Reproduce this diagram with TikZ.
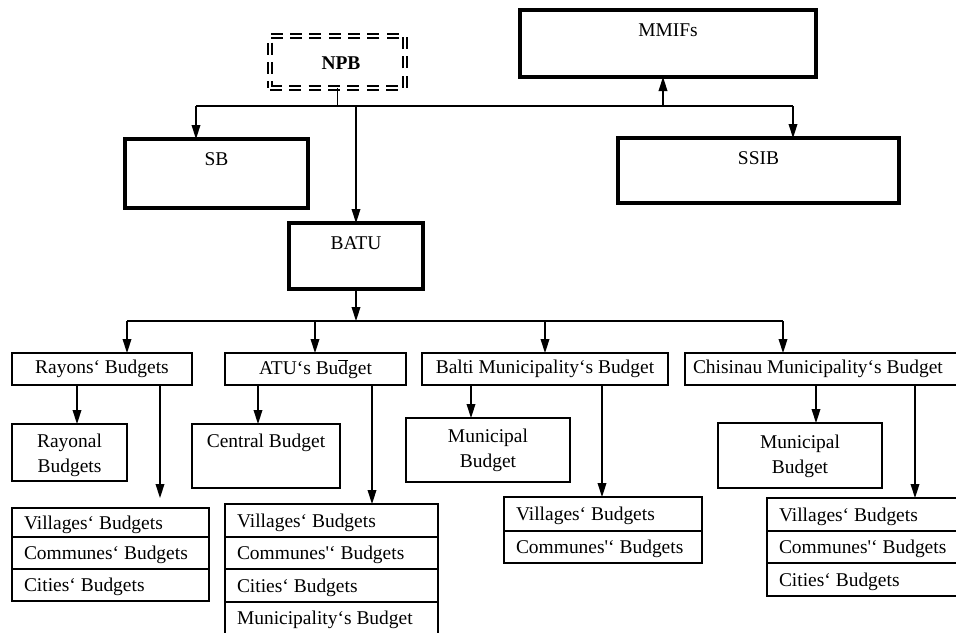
\documentclass[tikz,border=0pt]{standalone}
\usepackage{fontspec}
\setmainfont{Liberation Serif}
\usetikzlibrary{arrows.meta,fit}
\begin{document}
\begin{tikzpicture}[x=0.75pt,y=-0.75pt,
  every node/.style={font=\fontsize{14.6}{18.75}\selectfont, inner sep=0pt, outer sep=0pt},
  tbox/.style={draw, line width=1.2pt, inner sep=0pt},
  kbox/.style={draw, line width=2.6pt, inner sep=0pt},
  conn/.style={line width=1.1pt},
  arr/.style={line width=1.1pt, -{Triangle[length=10.5pt,width=6.5pt]}},
  rowtxt/.style={anchor=west, xshift=9pt, yshift=-1.5pt}
]
\useasboundingbox (0,0) rectangle (956,632);

% ---- top level ----
\node[draw, double, double distance=1.4pt, line width=1.6pt,
      dash pattern=on 9pt off 5.5pt, inner sep=0pt, fit={(270,36)(405,88)}] (npb) {};
\node[font=\fontsize{14.6}{18.75}\selectfont\bfseries] (npbt) at (341,63) {NPB};

\node[kbox, fit={(520,10)(816,77)}] (mmifs) {};
\node (mmifst) at ([yshift=-15pt]mmifs.north) {MMIFs};
\node[kbox, fit={(125,139)(308,208)}] (sb) {};
\node (sbt) at ([yshift=-15pt]sb.north) {SB};
\node[kbox, fit={(618,138)(899,203)}] (ssib) {};
\node (ssibt) at ([yshift=-15pt]ssib.north) {SSIB};
\node[kbox, fit={(289,223)(423,289)}] (batu) {};
\node (batut) at ([yshift=-15pt]batu.north) {BATU};

\coordinate (ta) at (196,106);
\coordinate (tb) at (793,106);
\coordinate (tm) at (663,106);
\coordinate (tn) at (356,106);
\draw[conn] (ta) -- (tb);
\draw[conn] (npb.south) -- (npb.south |- ta);
\draw[arr] (ta) -- (sb.north -| ta);
\draw[arr] (tn) -- (batu.north);
\draw[arr] (tb) -- (ssib.north -| tb);
\draw[arr] (tm) -- (mmifs.south -| tm);

% ---- second level ----
\coordinate (ba) at (127,321);
\coordinate (bb) at (315,321);
\coordinate (bc) at (545,321);
\coordinate (bd) at (783,321);
\draw[conn] (ba) -- (bd);
\draw[arr] (batu.south) -- (batu.south |- ba);

\node[tbox, fit={(12,353)(192,385)}] (ray) {};
\node (rayt) at (ray.center) {Rayons‘ Budgets};
\node[tbox, fit={(225,353)(406,385)}] (atu) {};
\node (atut) at (atu.center) {ATU‘s Bu\makebox[0pt][l]{\rule[0.66em]{0.48em}{0.07em}}dget};
\node[tbox, fit={(422,353)(668,385)}] (bal) {};
\node (balt) at (bal.center) {Balti Municipality‘s Budget};
\node[tbox, fit={(685,353)(960,385)}] (chi) {};
\node[anchor=west] (chit) at (693,369) {Chisinau Municipality‘s Budget};

\draw[arr] (ba) -- (ray.north -| ba);
\draw[arr] (bb) -- (atu.north -| bb);
\draw[arr] (bc) -- (bal.north -| bc);
\draw[arr] (bd) -- (chi.north -| bd);

% ---- Rayons ----
\node[tbox, fit={(12,424)(127,481)}] (rayo) {};
\node[align=center] (rayot) at ([yshift=-2.5pt]rayo.center) {Rayonal\\Budgets};
\node[tbox, fit={(12,508)(209,537)}] (rv) {};
\node[tbox, fit={(12,537)(209,569)}] (rc) {};
\node[tbox, fit={(12,569)(209,601)}] (rci) {};
\node[rowtxt] (rvt) at (rv.west) {Villages‘ Budgets};
\node[rowtxt] (rct) at (rc.west) {Communes‘ Budgets};
\node[rowtxt] (rcit) at (rci.west) {Cities‘ Budgets};
\coordinate (r1) at (77,385);
\coordinate (r2) at (160,385);
\draw[arr] (r1) -- (rayo.north -| r1);
\draw[arr] (r2) -- (160,498);

% ---- ATU ----
\node[tbox, fit={(192,424)(340,488)}] (cen) {};
\node (cent) at ([yshift=-14.5pt]cen.north) {Central Budget};
\node[tbox, fit={(225,504)(438,537)}] (av) {};
\node[tbox, fit={(225,537)(438,569)}] (ac) {};
\node[tbox, fit={(225,569)(438,602)}] (aci) {};
\node[tbox, fit={(225,602)(438,645)}] (am) {};
\node[rowtxt] (avt) at (av.west) {Villages‘ Budgets};
\node[rowtxt] (act) at (ac.west) {Communes\textquotesingle‘ Budgets};
\node[rowtxt] (acit) at (aci.west) {Cities‘ Budgets};
\node[rowtxt] (amt) at (225,618) {Municipality‘s Budget};
\coordinate (a1) at (258,385);
\coordinate (a2) at (372,385);
\draw[arr] (a1) -- (cen.north -| a1);
\draw[arr] (a2) -- (av.north -| a2);

% ---- Balti ----
\node[tbox, fit={(406,418)(570,482)}] (bm) {};
\node[align=center] (bmt) at (bm.center) {Municipal\\Budget};
\node[tbox, fit={(504,497)(702,531)}] (bv) {};
\node[tbox, fit={(504,531)(702,563)}] (bcm) {};
\node[rowtxt] (bvt) at (bv.west) {Villages‘ Budgets};
\node[rowtxt] (bcmt) at (bcm.west) {Communes\textquotesingle‘ Budgets};
\coordinate (b1) at (471,385);
\coordinate (b2) at (602,385);
\draw[arr] (b1) -- (bm.north -| b1);
\draw[arr] (b2) -- (bv.north -| b2);

% ---- Chisinau ----
\node[tbox, fit={(718,423)(882,488)}] (cm) {};
\node[align=center] (cmt) at ([yshift=-1pt]cm.center) {Municipal\\Budget};
\node[tbox, fit={(767,498)(962,531)}] (cv) {};
\node[tbox, fit={(767,531)(962,563)}] (cc) {};
\node[tbox, fit={(767,563)(962,596)}] (cci) {};
\node[rowtxt] (cvt) at (cv.west) {Villages‘ Budgets};
\node[rowtxt] (cct) at (cc.west) {Communes\textquotesingle‘ Budgets};
\node[rowtxt] (ccit) at (cci.west) {Cities‘ Budgets};
\coordinate (c1) at (816,385);
\coordinate (c2) at (915,385);
\draw[arr] (c1) -- (cm.north -| c1);
\draw[arr] (c2) -- (cv.north -| c2);
\end{tikzpicture}
\end{document}
